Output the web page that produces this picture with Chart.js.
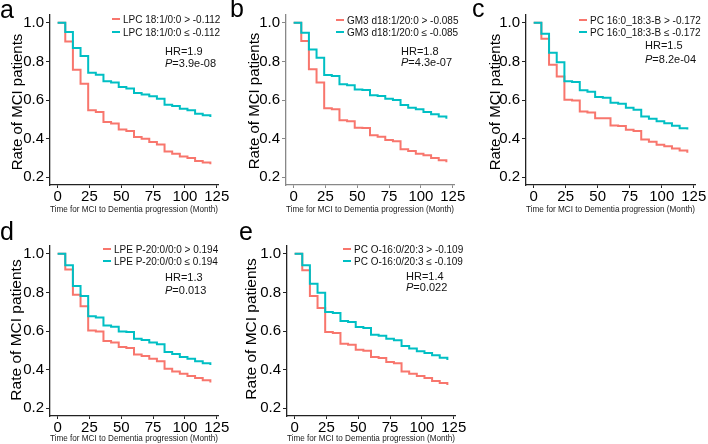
<!DOCTYPE html>
<html>
<head>
<meta charset="utf-8">
<script src="https://cdn.jsdelivr.net/npm/chart.js@4.4.0/dist/chart.umd.min.js"></script>
<style>
  body { margin: 0; background: #fff; width: 708px; height: 444px; overflow: hidden; position: relative;
         font-family: "Liberation Sans", Arial, sans-serif; }
  .panel { position: absolute; width: 236px; height: 222px; }
  .panel canvas { position: absolute; left: 0; top: 0; }
  .letter { position: absolute; font-size: 25px; line-height: 25px; color: #000; }
  .ytitle { position: absolute; line-height: 1; color: #000; white-space: nowrap;
            transform: translate(-50%, -50%) rotate(-90deg); }
  .leg { position: absolute; font-size: 10px; line-height: 12px; color: #111; white-space: nowrap; transform: translateY(-50%); }
  .leg i { display: inline-block; width: 8px; height: 2px; vertical-align: middle; margin-right: 3px; position: relative; top: -1px; }
  .hr { position: absolute; font-size: 11px; line-height: 12px; color: #111; white-space: nowrap; transform: translateY(-50%); }
</style>
</head>
<body>
<script>
// follow-up time points (months)
const months = [0, 6, 12, 18, 24, 30, 36, 42, 48, 54, 60, 66, 72, 78, 84, 90, 96, 102, 108, 114, 120];
const xTicks = [0, 25, 50, 75, 100, 125];
const yTicks = [0.2, 0.4, 0.6, 0.8, 1.0];

// survival curves, high group (red) / low group (teal)
const aHigh = [1.0, 0.903, 0.757, 0.684, 0.547, 0.538, 0.486, 0.478, 0.447, 0.44, 0.409, 0.40, 0.383, 0.37, 0.334, 0.322, 0.308, 0.30, 0.284, 0.276, 0.267];
const aLow  = [1.0, 0.952, 0.869, 0.828, 0.741, 0.731, 0.697, 0.69, 0.667, 0.659, 0.636, 0.629, 0.619, 0.607, 0.576, 0.569, 0.555, 0.547, 0.529, 0.521, 0.512];
const bHigh = [1.0, 0.905, 0.759, 0.69, 0.557, 0.552, 0.495, 0.49, 0.457, 0.455, 0.417, 0.41, 0.393, 0.386, 0.345, 0.336, 0.322, 0.314, 0.30, 0.288, 0.278];
const bLow  = [1.0, 0.948, 0.862, 0.819, 0.729, 0.724, 0.681, 0.676, 0.655, 0.652, 0.624, 0.621, 0.607, 0.60, 0.574, 0.56, 0.552, 0.538, 0.526, 0.514, 0.503];
const cHigh = [1.0, 0.917, 0.783, 0.722, 0.601, 0.597, 0.541, 0.535, 0.506, 0.505, 0.468, 0.465, 0.446, 0.44, 0.395, 0.384, 0.368, 0.36, 0.349, 0.338, 0.327];
const cLow  = [1.0, 0.943, 0.844, 0.795, 0.697, 0.693, 0.65, 0.643, 0.616, 0.612, 0.586, 0.581, 0.56, 0.55, 0.515, 0.503, 0.49, 0.48, 0.467, 0.454, 0.447];
const dHigh = [1.0, 0.919, 0.788, 0.728, 0.603, 0.598, 0.548, 0.54, 0.517, 0.512, 0.478, 0.471, 0.457, 0.443, 0.405, 0.391, 0.379, 0.367, 0.357, 0.345, 0.333];
const dLow  = [1.0, 0.94, 0.833, 0.781, 0.676, 0.67, 0.629, 0.622, 0.598, 0.595, 0.56, 0.553, 0.54, 0.531, 0.491, 0.481, 0.466, 0.457, 0.443, 0.433, 0.424];
const eHigh = [1.0, 0.914, 0.781, 0.719, 0.595, 0.59, 0.534, 0.529, 0.503, 0.498, 0.466, 0.46, 0.44, 0.433, 0.391, 0.379, 0.367, 0.357, 0.341, 0.331, 0.321];
const eLow  = [1.0, 0.94, 0.845, 0.798, 0.698, 0.693, 0.652, 0.647, 0.621, 0.616, 0.581, 0.576, 0.56, 0.552, 0.522, 0.509, 0.495, 0.486, 0.474, 0.462, 0.45];

const aLabels = ['LPC 18:1/0:0 > -0.112', 'LPC 18:1/0:0 \u2264 -0.112'];
const bLabels = ['GM3 d18:1/20:0 > -0.085', 'GM3 d18:1/20:0 \u2264 -0.085'];
const cLabels = ['PC 16:0_18:3-B > -0.172', 'PC 16:0_18:3-B \u2264 -0.172'];
const dLabels = ['LPE P-20:0/0:0 > 0.194', 'LPE P-20:0/0:0 \u2264 0.194'];
const eLabels = ['PC O-16:0/20:3 > -0.109', 'PC O-16:0/20:3 \u2264 -0.109'];

const hrTexts = ['1.9', '1.8', '1.5', '1.3', '1.4'];
const pTexts = ['3.9e-08', '4.3e-07', '8.2e-04', '0.013', '0.022'];

const RED = '#F8766D';
const TEAL = '#00BFC4';

Chart.defaults.font.family = '"Liberation Sans", Arial, sans-serif';

// layout for each panel (canvas-relative pixels)
const panels = [
  { id: 'a', x: 0,   y: 0,   high: aHigh, low: aLow, labels: aLabels, left: 50, right: 218, top: 15, bottom: 185, xtp: 6.6,
    ytitle: [15.5, 101.5, 15], letter: [0, -3], leg: [112, 19.5, 33], hr: [165, 50.5, 62.5], axis: '#222' },
  { id: 'b', x: 236, y: 0,   high: bHigh, low: bLow, labels: bLabels, left: 50, right: 218, top: 15, bottom: 185, xtp: 6.6,
    ytitle: [16.5, 100.5, 15], letter: [-6, -4], leg: [100, 20.5, 32.5], hr: [165, 50.5, 62], axis: '#888' },
  { id: 'c', x: 472, y: 0,   high: cHigh, low: cLow, labels: cLabels, left: 54, right: 223, top: 15, bottom: 185, xtp: 6.6,
    ytitle: [21.5, 102, 15], letter: [0, -4], leg: [107, 20.5, 32.5], hr: [173, 44.5, 59], axis: '#222' },
  { id: 'd', x: 0,   y: 222, high: dHigh, low: dLow, labels: dLabels, left: 50, right: 218, top: 24, bottom: 194, xtp: 0,
    ytitle: [15.5, 108, 15.5], letter: [0, -3], leg: [103, 27.5, 39.5], hr: [165, 54.5, 68], axis: '#222' },
  { id: 'e', x: 236, y: 222, high: eHigh, low: eLow, labels: eLabels, left: 51, right: 219, top: 24, bottom: 194, xtp: 0,
    ytitle: [15, 107, 15.5], letter: [3, -3], leg: [107, 28, 39.5], hr: [170, 53.5, 65], axis: '#222' }
];

function toPoints(values) {
  return months.map((m, i) => ({ x: m, y: values[i] }));
}

function addText(parent, cls, left, top, html) {
  const el = document.createElement('div');
  el.className = cls;
  el.style.left = left + 'px';
  el.style.top = top + 'px';
  el.innerHTML = html;
  parent.appendChild(el);
  return el;
}

panels.forEach((p, k) => {
  const div = document.createElement('div');
  div.className = 'panel';
  div.style.left = p.x + 'px';
  div.style.top = p.y + 'px';
  document.body.appendChild(div);

  const canvas = document.createElement('canvas');
  canvas.width = 236;
  canvas.height = 222;
  div.appendChild(canvas);

  addText(div, 'letter', p.letter[0], p.letter[1], p.id);
  const yt = addText(div, 'ytitle', p.ytitle[0], p.ytitle[1], 'Rate of MCI patients');
  yt.style.fontSize = p.ytitle[2] + 'px';

  addText(div, 'leg', p.leg[0], p.leg[1], '<i style="background:' + RED + '"></i>')
    .appendChild(document.createTextNode(p.labels[0]));
  addText(div, 'leg', p.leg[0], p.leg[2], '<i style="background:' + TEAL + '"></i>')
    .appendChild(document.createTextNode(p.labels[1]));

  addText(div, 'hr', p.hr[0], p.hr[1], 'HR=' + hrTexts[k]);
  addText(div, 'hr', p.hr[0], p.hr[2], '<i>P</i>=' + pTexts[k]);

  new Chart(canvas, {
    type: 'line',
    data: {
      datasets: [
        { data: toPoints(p.low), borderColor: TEAL, borderWidth: 2, stepped: true, pointRadius: 0, fill: false },
        { data: toPoints(p.high), borderColor: RED, borderWidth: 2, stepped: true, pointRadius: 0, fill: false }
      ]
    },
    options: {
      animation: false,
      responsive: false,
      layout: { padding: { top: p.top, right: 236 - p.right, left: 0, bottom: 0 } },
      scales: {
        x: {
          type: 'linear', min: -6, max: 126,
          afterBuildTicks: s => { s.ticks = xTicks.map(v => ({ value: v })); },
          afterFit: s => { s.height = 222 - p.bottom; },
          grid: { display: true, drawOnChartArea: false, drawTicks: true, tickLength: 3, color: p.axis },
          border: { display: true, color: p.axis, width: 1.3 },
          ticks: { font: { size: 15 }, color: '#000', padding: 0, maxRotation: 0, autoSkip: false },
          title: { display: true, text: 'Time for MCI to Dementia progression (Month)', font: { size: 9 }, color: '#222',
                   padding: { top: p.xtp, bottom: p.xtp } }
        },
        y: {
          type: 'linear', min: 0.16, max: 1.04,
          afterBuildTicks: s => { s.ticks = yTicks.map(v => ({ value: v })); },
          afterFit: s => { s.width = p.left; },
          grid: { display: true, drawOnChartArea: false, drawTicks: true, tickLength: 4, color: p.axis },
          border: { display: true, color: p.axis, width: 1.3 },
          ticks: { font: { size: 15 }, color: '#000', padding: 2, callback: v => v.toFixed(1) }
        }
      },
      plugins: { legend: { display: false }, tooltip: { enabled: false } }
    }
  });
});
</script>
</body>
</html>
